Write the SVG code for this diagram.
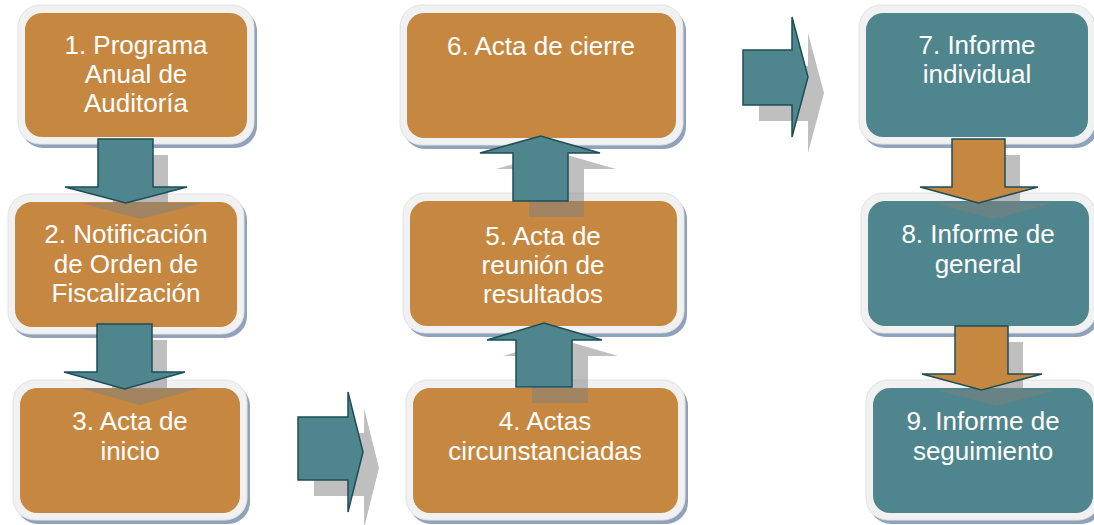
<svg xmlns="http://www.w3.org/2000/svg" width="1094" height="525" viewBox="0 0 1094 525">
<style>
.sh{fill:#8EA2BB}
.fr{fill:#F1F1F1;stroke:#E2E2E2;stroke-width:1}
.or{fill:#C68841}
.tl{fill:#4F868D}
.t{font-family:"Liberation Sans",Arial,sans-serif;font-size:26px;fill:#FFFFFF;text-anchor:middle}
.as{fill:#808080;opacity:0.5}
.at{fill:#4F868D;stroke:#1C4E56;stroke-width:1.5;stroke-linejoin:miter}
.ao{fill:#C68841;stroke:#1C4E56;stroke-width:1.5;stroke-linejoin:miter}
</style>
<rect width="1094" height="525" fill="#FFFFFF"/>

<g id="n1">
<rect class="sh" x="21" y="9" width="236" height="139" rx="22"/>
<rect class="fr" x="18" y="5" width="236" height="139" rx="22"/>
<rect class="or" x="25" y="13" width="222" height="124" rx="17"/>
<text class="t" x="136" y="54">1. Programa</text>
<text class="t" x="136" y="83">Anual de</text>
<text class="t" x="136" y="112">Auditoría</text>
</g>

<g id="n2">
<rect class="sh" x="11" y="198" width="236" height="140" rx="22"/>
<rect class="fr" x="8" y="194" width="236" height="140" rx="22"/>
<rect class="or" x="15" y="202" width="222" height="125" rx="17"/>
<text class="t" x="126" y="243">2. Notificación</text>
<text class="t" x="126" y="273">de Orden de</text>
<text class="t" x="126" y="302">Fiscalización</text>
</g>

<g id="n3">
<rect class="sh" x="16" y="384" width="234" height="140" rx="22"/>
<rect class="fr" x="13" y="380" width="234" height="140" rx="22"/>
<rect class="or" x="20" y="388" width="220" height="125" rx="17"/>
<text class="t" x="130" y="430">3. Acta de</text>
<text class="t" x="130" y="460">inicio</text>
</g>

<g id="n6">
<rect class="sh" x="403" y="9" width="283" height="140" rx="22"/>
<rect class="fr" x="400" y="5" width="283" height="140" rx="22"/>
<rect class="or" x="407" y="13" width="269" height="125" rx="17"/>
<text class="t" x="541" y="55">6. Acta de cierre</text>
</g>

<g id="n5">
<rect class="sh" x="406" y="197" width="281" height="140" rx="22"/>
<rect class="fr" x="403" y="193" width="281" height="140" rx="22"/>
<rect class="or" x="410" y="201" width="267" height="125" rx="17"/>
<text class="t" x="543" y="245">5. Acta de</text>
<text class="t" x="543" y="274">reunión de</text>
<text class="t" x="543" y="303">resultados</text>
</g>

<g id="n4">
<rect class="sh" x="409" y="384" width="279" height="140" rx="22"/>
<rect class="fr" x="406" y="380" width="279" height="140" rx="22"/>
<rect class="or" x="413" y="388" width="265" height="125" rx="17"/>
<text class="t" x="545" y="430">4. Actas</text>
<text class="t" x="545" y="460">circunstanciadas</text>
</g>

<g id="n7">
<rect class="sh" x="862" y="9" width="236" height="139" rx="22"/>
<rect class="fr" x="859" y="5" width="236" height="139" rx="22"/>
<rect class="tl" x="866" y="13" width="222" height="124" rx="17"/>
<text class="t" x="977" y="54">7. Informe</text>
<text class="t" x="977" y="83">individual</text>
</g>

<g id="n8">
<rect class="sh" x="864" y="197" width="235" height="140" rx="22"/>
<rect class="fr" x="861" y="193" width="235" height="140" rx="22"/>
<rect class="tl" x="868" y="201" width="221" height="125" rx="17"/>
<text class="t" x="978" y="243">8. Informe de</text>
<text class="t" x="978" y="273">general</text>
</g>

<g id="n9">
<rect class="sh" x="869" y="384" width="234" height="140" rx="22"/>
<rect class="fr" x="866" y="380" width="234" height="140" rx="22"/>
<rect class="tl" x="873" y="388" width="220" height="125" rx="17"/>
<text class="t" x="983" y="430">9. Informe de</text>
<text class="t" x="983" y="460">seguimiento</text>
</g>

<g id="connectors">
<!-- shadows -->
<g transform="translate(15,16)">
<polygon class="as" points="98,139 153,139 153,187 187,187 126,203 65,187 98,187"/>
<polygon class="as" points="97,324 152,324 152,372 185,372 124.5,389 64,372 97,372"/>
<polygon class="as" points="952,139 1005,139 1005,187 1038,187 978.5,203 920,187 952,187"/>
<polygon class="as" points="955,326 1008,326 1008,374 1042,374 981.5,390 922,374 955,374"/>
</g>
<g transform="translate(16,16)">
<polygon class="as" points="516,387 572,387 572,340 602,340 544,323 487,340 516,340"/>
<polygon class="as" points="513,201 568,201 568,153 600,153 540.5,136 480,153 513,153"/>
<polygon class="as" points="298,417 348,417 348,392 363,452 348,512 348,480 298,480"/>
<polygon class="as" points="743,50 792,50 792,17 808,77 792,137 792,105 743,105"/>
</g>
<!-- arrows -->
<polygon class="at" points="98,139 153,139 153,187 187,187 126,203 65,187 98,187"/>
<polygon class="at" points="97,324 152,324 152,372 185,372 124.5,389 64,372 97,372"/>
<polygon class="at" points="298,417 348,417 348,392 363,452 348,512 348,480 298,480"/>
<polygon class="at" points="516,387 572,387 572,340 602,340 544,323 487,340 516,340"/>
<polygon class="at" points="513,201 568,201 568,153 600,153 540.5,136 480,153 513,153"/>
<polygon class="at" points="743,50 792,50 792,17 808,77 792,137 792,105 743,105"/>
<polygon class="ao" points="952,139 1005,139 1005,187 1038,187 978.5,203 920,187 952,187"/>
<polygon class="ao" points="955,326 1008,326 1008,374 1042,374 981.5,390 922,374 955,374"/>
</g>
</svg>
